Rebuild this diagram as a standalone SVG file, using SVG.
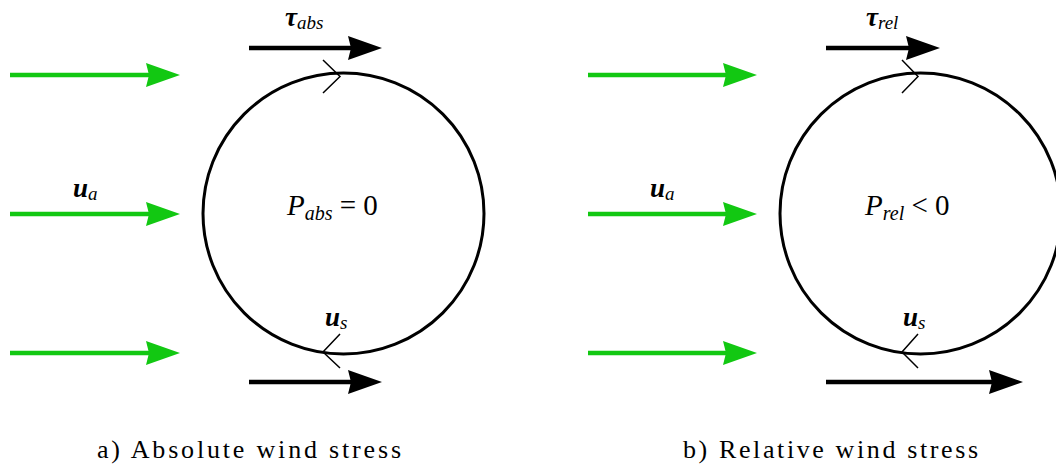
<svg xmlns="http://www.w3.org/2000/svg" width="1056" height="465" viewBox="0 0 1056 465">
<defs>
<marker id="ag" viewBox="0 0 34 24" refX="14" refY="12" markerWidth="34" markerHeight="24" markerUnits="userSpaceOnUse" orient="auto">
<path d="M0,0 L34,12 L0,24 L3,12 Z" fill="#12c812"/>
</marker>
<marker id="ak" viewBox="0 0 34 24" refX="14" refY="12" markerWidth="34" markerHeight="24" markerUnits="userSpaceOnUse" orient="auto">
<path d="M0,0 L34,12 L0,24 L3,12 Z" fill="#000"/>
</marker>
</defs>
<g id="connectors" fill="none" stroke-width="4.5">
<g stroke="#12c812">
<path d="M10,75 H160" marker-end="url(#ag)"/>
<path d="M10,214 H160" marker-end="url(#ag)"/>
<path d="M10,353 H160" marker-end="url(#ag)"/>
<path d="M588,75 H737" marker-end="url(#ag)"/>
<path d="M588,214 H737" marker-end="url(#ag)"/>
<path d="M588,353 H737" marker-end="url(#ag)"/>
</g>
<g stroke="#000">
<path d="M249,48 H362" marker-end="url(#ak)"/>
<path d="M249,382 H362" marker-end="url(#ak)"/>
<path d="M826,48 H920" marker-end="url(#ak)"/>
<path d="M826,382 H1003" marker-end="url(#ak)"/>
</g>
</g>
<g id="node-a" font-family="Liberation Serif" fill="#000">
<circle cx="343.5" cy="213.5" r="140.5" fill="none" stroke="#000" stroke-width="3"/>
<path d="M323,60 L340,76.5 L323,93" fill="none" stroke="#000" stroke-width="1.5"/>
<path d="M340,334 L323,352 L340,368" fill="none" stroke="#000" stroke-width="1.5"/>
<text font-style="italic" x="287" y="215" font-size="29">P<tspan font-size="20" dy="5">abs</tspan><tspan font-style="normal" dy="-5"> = 0</tspan></text>
<text font-style="italic" font-weight="bold" x="285" y="26" font-size="27">τ<tspan font-size="19" font-weight="normal" dy="3">abs</tspan></text>
<text font-style="italic" font-weight="bold" x="73" y="197" font-size="27">u<tspan font-size="19" font-weight="normal" dy="3">a</tspan></text>
<text font-style="italic" font-weight="bold" x="325" y="326" font-size="27">u<tspan font-size="19" font-weight="normal" dy="3">s</tspan></text>
<text x="97" y="458" font-size="26" textLength="304" lengthAdjust="spacing">a) Absolute wind stress</text>
</g>
<g id="node-b" font-family="Liberation Serif" fill="#000">
<circle cx="920.5" cy="213.5" r="140.5" fill="none" stroke="#000" stroke-width="3"/>
<path d="M902,60 L918,76.5 L902,93" fill="none" stroke="#000" stroke-width="1.5"/>
<path d="M918,334 L902,352 L918,368" fill="none" stroke="#000" stroke-width="1.5"/>
<text font-style="italic" x="865" y="215" font-size="29">P<tspan font-size="20" dy="5">rel</tspan><tspan font-style="normal" dy="-5"> &lt; 0</tspan></text>
<text font-style="italic" font-weight="bold" x="866" y="26" font-size="27">τ<tspan font-size="19" font-weight="normal" dy="3">rel</tspan></text>
<text font-style="italic" font-weight="bold" x="650" y="197" font-size="27">u<tspan font-size="19" font-weight="normal" dy="3">a</tspan></text>
<text font-style="italic" font-weight="bold" x="903" y="326" font-size="27">u<tspan font-size="19" font-weight="normal" dy="3">s</tspan></text>
<text x="683" y="458" font-size="26" textLength="295" lengthAdjust="spacing">b) Relative wind stress</text>
</g>
</svg>
